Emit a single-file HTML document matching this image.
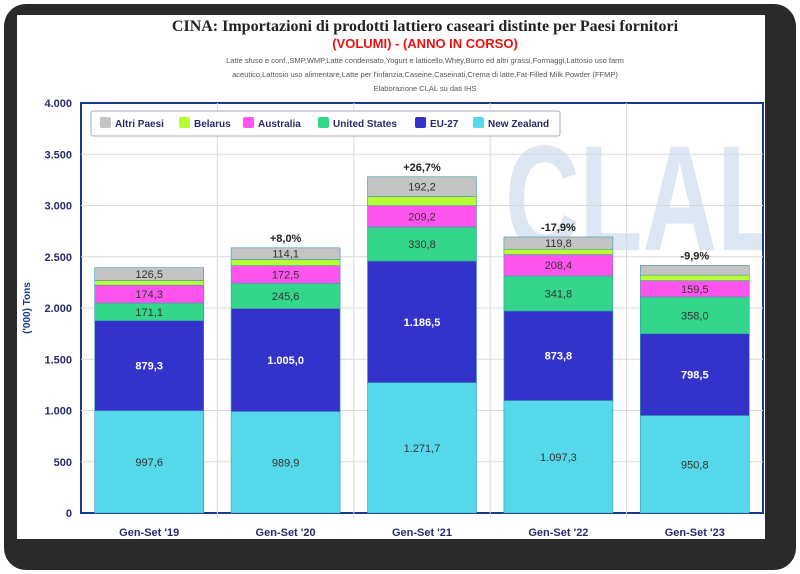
<!DOCTYPE html>
<html><head><meta charset="utf-8"><style>
html,body{margin:0;padding:0;background:#fff;}
body{width:800px;height:574px;position:relative;overflow:hidden;font-family:"Liberation Sans",sans-serif;}
#frame{position:absolute;left:4px;top:4px;width:792px;height:566px;background:#2a2a2a;border-radius:22px;}
#panel{position:absolute;left:17px;top:15px;width:748px;height:524px;background:#fff;}
</style></head><body>
<div id="frame"></div>
<div id="panel"></div>
<svg id="chart" width="800" height="574" style="position:absolute;left:0;top:0">
<defs><clipPath id="pc"><rect x="81" y="103" width="682" height="410"/></clipPath></defs>
<text x="425" y="31" text-anchor="middle" font-family="Liberation Serif,serif" font-size="16" font-weight="bold" fill="#222">CINA: Importazioni di prodotti lattiero caseari distinte per Paesi fornitori</text>
<text x="425" y="48" text-anchor="middle" font-size="13" font-weight="bold" fill="#ee1111">(VOLUMI) - (ANNO IN CORSO)</text>
<text x="425" y="63" text-anchor="middle" font-size="7.5" fill="#555">Latte sfuso e conf.,SMP,WMP,Latte condensato,Yogurt e latticello,Whey,Burro ed altri grassi,Formaggi,Lattosio uso farm</text>
<text x="425" y="77" text-anchor="middle" font-size="7.5" fill="#555">aceutico,Lattosio uso alimentare,Latte per l'infanzia,Caseine,Caseinati,Crema di latte,Fat-Filled Milk Powder (FFMP)</text>
<text x="425" y="91" text-anchor="middle" font-size="7.5" fill="#555">Elaborazione CLAL su dati IHS</text>
<g clip-path="url(#pc)"><text x="505" y="250" font-size="150" font-weight="bold" fill="#dde6f3" textLength="275" lengthAdjust="spacingAndGlyphs">CLAL</text></g>
<g id="grid"></g><g id="bars"></g><g id="axes"></g>
</svg>
<script>
const categories=["Gen-Set '19","Gen-Set '20","Gen-Set '21","Gen-Set '22","Gen-Set '23"];
const newZealand=[997.6,989.9,1271.7,1097.3,950.8];
const eu27=[879.3,1005.0,1186.5,873.8,798.5];
const unitedStates=[171.1,245.6,330.8,341.8,358.0];
const australia=[174.3,172.5,209.2,208.4,159.5];
const belarus=[45,60,90,52,54];
const altriPaesi=[126.5,114.1,192.2,119.8,95];
const changes=["","+8,0%","+26,7%","-17,9%","-9,9%"];
const yTicks=[0,500,1000,1500,2000,2500,3000,3500,4000];
const yTickLabels=["0","500","1.000","1.500","2.000","2.500","3.000","3.500","4.000"];
const seriesNames=["Altri Paesi","Belarus","Australia","United States","EU-27","New Zealand"];

const NS="http://www.w3.org/2000/svg";
const X0=81,X1=763,Y0=513,Y1=103,YMAX=4000;
const band=(X1-X0)/categories.length,BW=109;
const y=v=>Y0-v/YMAX*(Y0-Y1);
const xc=i=>X0+band*(i+0.5);
function mk(tag,attrs,parent,text){const e=document.createElementNS(NS,tag);for(const k in attrs)e.setAttribute(k,attrs[k]);if(text!==undefined)e.textContent=text;parent.appendChild(e);return e;}
const grid=document.getElementById('grid'),bars=document.getElementById('bars'),axes=document.getElementById('axes');
mk('rect',{x:X0,y:Y1,width:X1-X0,height:Y0-Y1,fill:'none',stroke:'#1a3a8a','stroke-width':2},grid);
yTicks.forEach((t,i)=>{
 if(t>0&&t<YMAX){const l=mk('line',{x1:X0,x2:X1,y1:y(t),y2:y(t),stroke:'#d8d8d8'},grid);
 
 }
 const tx=mk('text',{x:X0-9,y:y(t)+4,'text-anchor':'end','font-size':11,'font-weight':'bold',fill:'#2a2a6a'},axes,yTickLabels[i]);
 
 
});
for(let i=1;i<categories.length;i++){const l=mk('line',{x1:X0+band*i,x2:X0+band*i,y1:Y1,y2:Y0+5,stroke:'#d8d8d8'},grid);
 
 }
const series=[[newZealand,'#55d8ea','new-zealand','#333'],[eu27,'#3333cc','eu-27','#fff'],[unitedStates,'#33d68a','united-states','#333'],[australia,'#ff55ee','australia','#333'],[belarus,'#b8ff33','belarus',null],[altriPaesi,'#c4c4c4','altri-paesi','#333']];
categories.forEach((c,i)=>{
 let acc=0;const x=xc(i)-BW/2;
 series.forEach(([arr,col,nm,tc])=>{
  const v=arr[i],top=y(acc+v),bot=y(acc);
  const r=mk('rect',{x:x,y:top,width:BW,height:bot-top,fill:col,stroke:'#3a9ab0','stroke-width':0.6},bars);
  
  
  if(tc&&bot-top>=11){const t=mk('text',{x:xc(i),y:(top+bot)/2+4,'text-anchor':'middle','font-size':11,fill:tc,'font-weight':tc==='#fff'?'bold':'normal'},bars,v.toFixed(1).replace('.',',').replace(/^(\d)(\d{3}),/,'$1.$2,'));
   
   }
  acc+=v;
 });
 if(changes[i]){const t=mk('text',{x:xc(i),y:y(acc)-6,'text-anchor':'middle','font-size':11,'font-weight':'bold',fill:'#222'},bars,changes[i]);
  
  }
 const cl=mk('text',{x:xc(i),y:536,'text-anchor':'middle','font-size':11,'font-weight':'bold',fill:'#2a2a6a'},axes,c);
 
 
});
const yt=mk('text',{x:0,y:0,transform:'translate(30,308) rotate(-90)','text-anchor':'middle','font-size':10,'font-weight':'bold',fill:'#1a3a8a'},axes,"('000) Tons");


const lg=mk('g',{},axes);


mk('rect',{x:91,y:111,width:469,height:25,fill:'#fff',stroke:'#aab',rx:2},lg);
const lcols=['#c4c4c4','#b8ff33','#ff55ee','#33d68a','#3333cc','#55d8ea'];
const lx=[100,179,243,318,415,473];
seriesNames.forEach((n,i)=>{
 const g=mk('g',{},lg);
 
 
 mk('rect',{x:lx[i],y:117,width:11,height:11,fill:lcols[i],rx:2},g);
 mk('text',{x:lx[i]+15,y:127,'font-size':10,'font-weight':'bold',fill:'#2a2a6a'},g,n);
});
</script>
</body></html>
